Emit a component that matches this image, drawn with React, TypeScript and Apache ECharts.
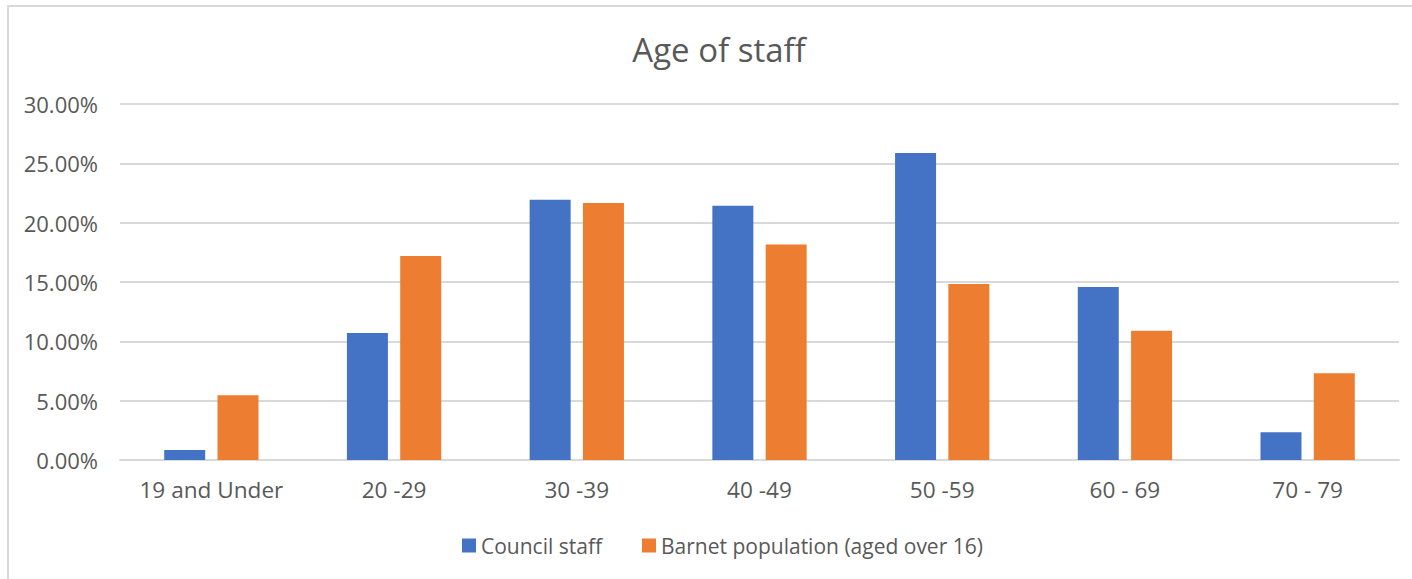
import React, { useEffect, useRef } from "react";
import * as echarts from "echarts";

const categories = ["19 and Under", "20 -29", "30 -39", "40 -49", "50 -59", "60 - 69", "70 - 79"];
const councilStaff = [0.84, 10.7, 21.93, 21.42, 25.87, 14.58, 2.34];
const barnetPopulation = [5.46, 17.2, 21.65, 18.16, 14.84, 10.9, 7.32];
const seriesNames = ["Council staff", "Barnet population (aged over 16)"];
const yTicks = { min: 0, max: 30, interval: 5 };

const FONT = "'Open Sans', sans-serif";
const TEXT = "#595959";

export default function App() {
  const ref = useRef<HTMLDivElement>(null);
  useEffect(() => {
    if (!ref.current) return;
    const chart = echarts.init(ref.current, null, { renderer: "svg" });
    chart.setOption({
      animation: false,
      backgroundColor: "#ffffff",
      textStyle: { fontFamily: FONT },
      title: {
        text: "Age of staff",
        left: 714,
        textAlign: "center",
        top: 28,
        textStyle: { fontFamily: FONT, fontSize: 33, fontWeight: "normal", color: TEXT },
      },
      graphic: [
        {
          type: "rect",
          shape: { x: 8, y: 6, width: 1430, height: 620 },
          style: { fill: "none", stroke: "#d9d9d9", lineWidth: 2 },
          silent: true,
          z: -1,
        },
      ],
      legend: {
        left: 457,
        top: 530,
        itemWidth: 14,
        itemHeight: 14,
        itemGap: 40,
        icon: "rect",
        data: seriesNames,
        textStyle: { fontFamily: FONT, fontSize: 21, color: TEXT },
      },
      grid: { left: 120, right: 13, top: 104, bottom: 119, containLabel: false },
      xAxis: {
        type: "category",
        data: categories,
        axisTick: { show: false },
        axisLine: { lineStyle: { color: "#d9d9d9", width: 2 } },
        axisLabel: { fontFamily: FONT, fontSize: 22.6, color: TEXT, margin: 18, interval: 0 },
      },
      yAxis: {
        type: "value",
        min: yTicks.min,
        max: yTicks.max,
        interval: yTicks.interval,
        axisLine: { show: false },
        axisTick: { show: false },
        splitLine: { lineStyle: { color: "#d9d9d9", width: 2 } },
        axisLabel: {
          fontFamily: FONT,
          fontSize: 22,
          color: TEXT,
          margin: 22,
          formatter: (v: number) => v.toFixed(2) + "%",
        },
      },
      series: [
        {
          name: seriesNames[0],
          type: "bar",
          data: councilStaff,
          barWidth: 41,
          barGap: "30%",
          itemStyle: { color: "#4472C4" },
        },
        {
          name: seriesNames[1],
          type: "bar",
          data: barnetPopulation,
          barWidth: 41,
          barGap: "30%",
          itemStyle: { color: "#ED7D31" },
        },
      ],
    });
    return () => chart.dispose();
  }, []);
  return (
    <div
      ref={ref}
      style={{ position: "fixed", left: 0, top: 0, width: 1412, height: 579, background: "#fff" }}
    />
  );
}
